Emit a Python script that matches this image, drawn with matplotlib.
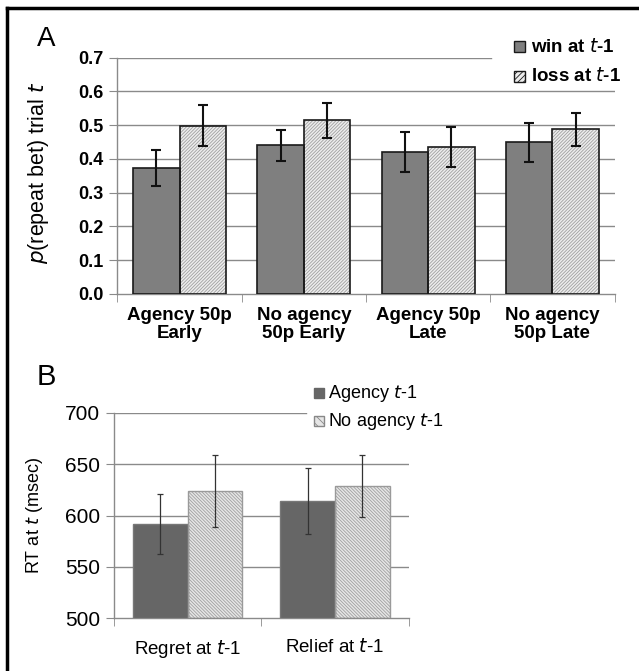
import numpy as np
import matplotlib
matplotlib.use("Agg")
import matplotlib.pyplot as plt
from matplotlib.patches import Rectangle

plt.rcParams['font.family'] = ['Liberation Sans', 'DejaVu Sans']
plt.rcParams['hatch.linewidth'] = 0.6

# panel A data
a_labels = ['Agency 50p\nEarly', 'No agency\n50p Early', 'Agency 50p\nLate', 'No agency\n50p Late']
a_win = [0.374, 0.441, 0.420, 0.450]
a_win_err = [0.053, 0.046, 0.059, 0.058]
a_loss = [0.499, 0.514, 0.435, 0.488]
a_loss_err = [0.062, 0.051, 0.060, 0.049]
a_ticks = [0.0, 0.1, 0.2, 0.3, 0.4, 0.5, 0.6, 0.7]

# panel B data
b_labels = ['Regret at $\\it{t}$-1', 'Relief at $\\it{t}$-1']
b_agency = [592, 614]
b_agency_err = [29, 32]
b_noagency = [624, 629]
b_noagency_err = [35, 30]
b_ticks = [500, 550, 600, 650, 700]

W, H = 639, 671
fig = plt.figure(figsize=(W / 100, H / 100), dpi=100)


def px_axes(left, top, right, bottom):
    return fig.add_axes([left / W, 1 - bottom / H, (right - left) / W, (bottom - top) / H])


def style_axes(ax, ticks, top_frac, n):
    ax.set_xlim(-0.5, n - 0.5)
    ax.set_ylim(ticks[0], ticks[-1])
    for s in ['top', 'right']:
        ax.spines[s].set_visible(False)
    for s in ['left', 'bottom']:
        ax.spines[s].set_color('#8a8a8a')
        ax.spines[s].set_linewidth(1.0)
    for v in ticks[1:]:
        frac = top_frac if v == ticks[-1] else 1.0
        ax.axhline(v, xmin=0, xmax=frac, color='#8a8a8a', lw=1.0, zorder=0)
    ax.set_yticks(ticks)
    ax.set_xticks(range(n))
    ax.set_xticks(np.arange(-0.5, n, 1.0), minor=True)
    ax.tick_params(axis='x', which='major', length=0, pad=8)
    ax.tick_params(axis='x', which='minor', length=6, color='#8a8a8a', direction='out')
    ax.tick_params(axis='y', length=6, color='#8a8a8a', direction='out', pad=4)


def hatched_bars(ax, x, h, bottom, w, hatch, face, hcolor, edge, lw):
    ax.bar(x, h, w, bottom=bottom, color=face, hatch=hatch, edgecolor=hcolor, linewidth=0, zorder=2)
    ax.bar(x, h, w, bottom=bottom, fill=False, edgecolor=edge, linewidth=lw, zorder=3)


# ---- panel A ----
axA = px_axes(117.4, 57.7, 614.5, 294)
style_axes(axA, a_ticks, 0.7516, 4)
x = np.arange(4)
bw = 0.374
axA.bar(x - bw / 2, a_win, bw, color='#7f7f7f', edgecolor='#1a1a1a', linewidth=1.2, zorder=3)
hatched_bars(axA, x + bw / 2, a_loss, 0, bw, '//////////', '#ededed', '#a0a0a0', '#1a1a1a', 1.2)
axA.errorbar(x - bw / 2, a_win, yerr=a_win_err, fmt='none', ecolor='#111111', elinewidth=1.5, capsize=3.5, capthick=1.5, zorder=4)
axA.errorbar(x + bw / 2, a_loss, yerr=a_loss_err, fmt='none', ecolor='#111111', elinewidth=1.5, capsize=3.5, capthick=1.5, zorder=4)
axA.set_yticklabels([f'{v:.1f}' for v in a_ticks], fontsize=13, fontweight='bold')
axA.set_xticklabels(a_labels, fontsize=13.5, fontweight='bold', linespacing=1.1)
axA.tick_params(axis='x', which='major', pad=9)
axA.set_ylabel('$\\it{p}$(repeat bet) trial $\\it{t}$', fontsize=15.5)
axA.yaxis.set_label_coords(51 / W, 1 - 173 / H, transform=fig.transFigure)

# legend A
fig.patches.append(Rectangle((514 / W, 1 - 52 / H), 11 / W, 11 / H, transform=fig.transFigure,
                             facecolor='#7f7f7f', edgecolor='#1a1a1a', lw=1))
fig.patches.append(Rectangle((514 / W, 1 - 82 / H), 11 / W, 11 / H, transform=fig.transFigure,
                             facecolor='#ececec', edgecolor='#1a1a1a', lw=1, hatch='//////'))
fig.text(531 / W, 1 - 46.7 / H, 'win at $\\bf{\\it{t}}$-1', fontsize=13.5, fontweight='bold', va='center')
fig.text(531 / W, 1 - 76 / H, 'loss at $\\bf{\\it{t}}$-1', fontsize=13.5, fontweight='bold', va='center')
fig.text(37 / W, 1 - 46.5 / H, 'A', fontsize=20, va='baseline')

# ---- panel B ----
axB = px_axes(114, 412.7, 408.7, 618.3)
style_axes(axB, b_ticks, 0.650, 2)
x2 = np.arange(2)
bw2 = 0.372
axB.bar(x2 - bw2 / 2, np.subtract(b_agency, 500), bw2, bottom=500, color='#666666', edgecolor='#777777', linewidth=1.0, zorder=3)
hatched_bars(axB, x2 + bw2 / 2, np.subtract(b_noagency, 500), 500, bw2, '\\\\\\\\\\\\\\\\\\\\', '#e6e6e6', '#a0a0a0', '#9a9a9a', 1.0)
axB.errorbar(x2 - bw2 / 2, b_agency, yerr=b_agency_err, fmt='none', ecolor='#333333', elinewidth=0.9, capsize=2.5, capthick=0.9, zorder=4)
axB.errorbar(x2 + bw2 / 2, b_noagency, yerr=b_noagency_err, fmt='none', ecolor='#333333', elinewidth=0.9, capsize=2.5, capthick=0.9, zorder=4)
axB.set_yticklabels([str(v) for v in b_ticks], fontsize=15)
axB.set_xticklabels(b_labels, fontsize=13.5)
axB.tick_params(axis='x', which='major', pad=14)
axB.set_ylabel('RT at $\\it{t}$ (msec)', fontsize=13)
axB.yaxis.set_label_coords(45 / W, 1 - 515.5 / H, transform=fig.transFigure)

# legend B
fig.patches.append(Rectangle((314 / W, 1 - 398 / H), 10 / W, 10 / H, transform=fig.transFigure,
                             facecolor='#666666', edgecolor='#666666', lw=1))
fig.patches.append(Rectangle((314 / W, 1 - 426 / H), 10 / W, 10 / H, transform=fig.transFigure,
                             facecolor='#e6e6e6', edgecolor='#888888', lw=1, hatch='\\\\\\\\'))
fig.text(328 / W, 1 - 393 / H, 'Agency $\\it{t}$-1', fontsize=13, va='center')
fig.text(328 / W, 1 - 421 / H, 'No agency $\\it{t}$-1', fontsize=13, va='center')
fig.text(37 / W, 1 - 385 / H, 'B', fontsize=21, va='baseline')

# frame lines (top and left)
fig.add_artist(plt.Line2D([7 / W, 1], [1 - 8 / H, 1 - 8 / H], transform=fig.transFigure, color='black', lw=2.5))
fig.add_artist(plt.Line2D([7 / W, 7 / W], [0, 1 - 8 / H], transform=fig.transFigure, color='black', lw=2.5))

fig.savefig('out.png', dpi=100)
